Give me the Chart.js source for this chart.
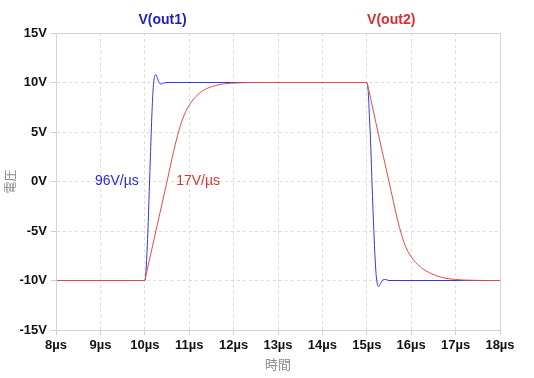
<!DOCTYPE html>
<html>
<head>
<meta charset="utf-8">
<script src="https://cdn.jsdelivr.net/npm/chart.js@4/dist/chart.umd.min.js"></script>
<style>
html,body{margin:0;padding:0;background:#fff;}
#wrap{width:534px;height:378px;position:relative;}
</style>
</head>
<body>
<div id="wrap"><canvas id="c" width="534" height="378"></canvas></div>
<script>
// Time axis (µs) and voltage (V) samples
const out1Time = [8, 10.0, 10.02, 10.04, 10.07, 10.10, 10.13, 10.16, 10.19, 10.22, 10.25, 10.28, 10.32, 10.37, 10.43, 10.5, 15.0, 15.03, 15.06, 15.09, 15.12, 15.15, 15.18, 15.21, 15.24, 15.27, 15.31, 15.36, 15.42, 15.5, 18];
const out1Volt = [-10, -10, -9.5, -8, -5, -1, 3, 6.8, 9.5, 10.6, 10.8, 10.5, 10.0, 9.85, 9.95, 10, 10, 9.2, 6.5, 3.5, -0.5, -4, -7.2, -9.4, -10.4, -10.6, -10.3, -9.95, -9.9, -10, -10];
const out2Time = [8, 10.0, 10.02, 10.25, 10.5, 10.7, 10.85, 11.0, 11.2, 11.4, 11.6, 11.8, 12.1, 12.6, 15.0, 15.04, 15.25, 15.5, 15.7, 15.85, 16.0, 16.2, 16.45, 16.7, 17.0, 17.3, 17.7, 18];
const out2Volt = [-10, -10, -9.6, -5, 0, 4, 6.3, 7.7, 8.8, 9.4, 9.7, 9.87, 9.96, 10, 10, 9.3, 5, 0, -4, -6.3, -7.6, -8.6, -9.3, -9.7, -9.9, -9.97, -10, -10];
const yTicks = [-15, -10, -5, 0, 5, 10, 15];
const xTicks = [8, 9, 10, 11, 12, 13, 14, 15, 16, 17, 18];
const seriesNames = ['V(out1)', 'V(out2)'];
const slewLabels = ['96V/µs', '17V/µs'];
const xTitle = '時間';
const yTitle = '電圧';

const BLUE = 'rgb(55,55,225)';
const RED = 'rgb(225,75,75)';
const FONT = "'Liberation Sans', Arial, 'Noto Sans CJK JP', sans-serif";
const CJK = "'Noto Sans CJK JP', 'Liberation Sans', sans-serif";

function pts(t, v) { return t.map((x, i) => ({x: x, y: v[i]})); }

const overlay = {
  id: 'overlay',
  afterDraw(chart) {
    const {ctx, chartArea: a, scales: {x, y}} = chart;
    ctx.save();
    ctx.strokeStyle = '#d4d4d4';
    ctx.lineWidth = 1;
    ctx.setLineDash([]);
    ctx.strokeRect(a.left + 0.5, a.top + 0.5, a.right - a.left, a.bottom - a.top);
    ctx.textBaseline = 'middle';
    ctx.textAlign = 'center';
    ctx.font = "bold 14px " + FONT;
    ctx.fillStyle = 'rgb(30,30,200)';
    ctx.fillText(seriesNames[0], x.getPixelForValue(10.4), a.top - 13);
    ctx.fillStyle = 'rgb(220,45,45)';
    ctx.fillText(seriesNames[1], x.getPixelForValue(15.55), a.top - 13);
    ctx.font = "14px " + FONT;
    ctx.fillStyle = 'rgb(40,40,220)';
    ctx.fillText(slewLabels[0], x.getPixelForValue(9.37), y.getPixelForValue(0));
    ctx.fillStyle = 'rgb(215,55,45)';
    ctx.fillText(slewLabels[1], x.getPixelForValue(11.2), y.getPixelForValue(0));
    ctx.restore();
  }
};

new Chart(document.getElementById('c'), {
  type: 'line',
  data: {
    datasets: [
      {label: seriesNames[1], data: pts(out2Time, out2Volt), borderColor: RED, borderWidth: 1, pointRadius: 0, cubicInterpolationMode: 'monotone', order: 0},
      {label: seriesNames[0], data: pts(out1Time, out1Volt), borderColor: BLUE, borderWidth: 1, pointRadius: 0, cubicInterpolationMode: 'monotone', order: 1}
    ]
  },
  options: {
    responsive: false,
    animation: false,
    events: [],
    layout: {padding: {top: 33, right: 34, left: 0, bottom: 0}},
    plugins: {legend: {display: false}, tooltip: {enabled: false}},
    scales: {
      x: {
        type: 'linear', min: xTicks[0], max: xTicks[xTicks.length - 1],
        afterBuildTicks: (s) => { s.ticks = xTicks.map(v => ({value: v})); },
        afterFit: (s) => { s.height = 48; },
        grid: {color: '#dcdcdc', tickColor: '#cfcfcf', tickLength: 5, tickBorderDash: [], lineWidth: 1},
        border: {display: true, color: '#d0d0d0', dash: [3, 3]},
        ticks: {color: '#111', font: {family: FONT, size: 13, weight: 'bold'}, padding: 3, maxRotation: 0, autoSkip: false,
                callback: (v) => v + 'µs'},
        title: {display: true, text: xTitle, color: '#8a8a8a', font: {family: CJK, size: 13}, padding: {top: 0, bottom: 6}}
      },
      y: {
        type: 'linear', min: yTicks[0], max: yTicks[yTicks.length - 1],
        afterBuildTicks: (s) => { s.ticks = yTicks.map(v => ({value: v})); },
        afterFit: (s) => { s.width = 56; },
        grid: {color: '#dcdcdc', tickColor: '#cfcfcf', tickLength: 5, tickBorderDash: [], lineWidth: 1},
        border: {display: true, color: '#d0d0d0', dash: [3, 3]},
        ticks: {color: '#111', font: {family: FONT, size: 13, weight: 'bold'}, padding: 4, autoSkip: false,
                callback: (v) => v + 'V'},
        title: {display: true, text: yTitle, color: '#8a8a8a', font: {family: CJK, size: 12}, padding: {top: 3, bottom: 0}}
      }
    }
  },
  plugins: [overlay]
});
</script>
</body>
</html>
